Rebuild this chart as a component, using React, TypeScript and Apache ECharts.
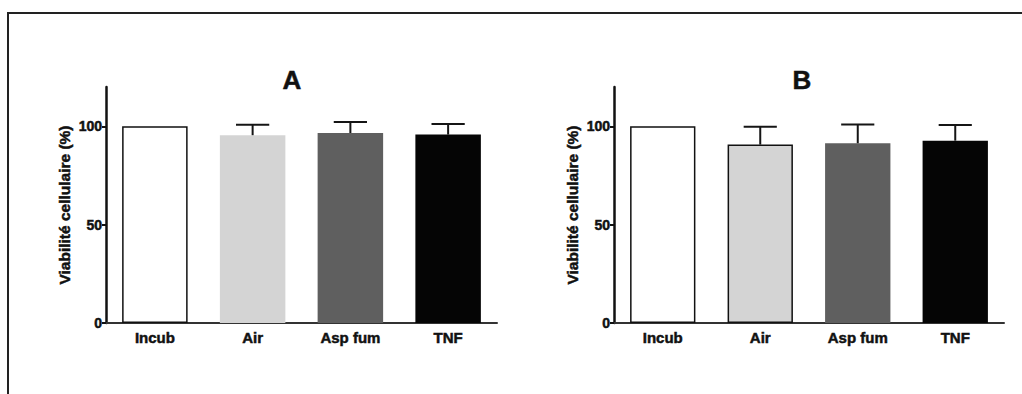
import React, { useEffect, useRef } from "react";
import * as echarts from "echarts";

// Treatment groups and mean cell viability (%) with standard deviation
const categories = ["Incub", "Air", "Asp fum", "TNF"];
const meansA = [100, 95.5, 96.6, 95.8];
const sdA = [0, 5.3, 5.6, 5.4];
const meansB = [100, 90.7, 91.4, 92.7];
const sdB = [0, 9.1, 9.5, 8.0];
const panelTitles = ["A", "B"];
const yAxisName = "Viabilité cellulaire (%)";

const FONT = "'Liberation Sans', Arial, Helvetica, sans-serif";
const INK = "#111";
const barColors = ["#ffffff", "#d4d4d4", "#5f5f5f", "#050505"];

// heavier bold text, as in typical GraphPad-style figures
const heavy = { color: INK, fontFamily: FONT, fontWeight: "bold", textBorderColor: INK, textBorderWidth: 0.5 };

function barData(means: number[], panel: number) {
  return means.map((v, i) => {
    const bordered = i === 0 || (panel === 1 && i === 1);
    return {
      value: v,
      itemStyle: {
        color: barColors[i],
        borderColor: bordered ? INK : barColors[i],
        borderWidth: bordered ? 1.5 : 0,
      },
    };
  });
}

function errorData(means: number[], sds: number[]) {
  return means
    .map((m, i) => [i, m, m + sds[i]])
    .filter((d) => d[2] > d[1]);
}

const renderError = (params: any, api: any) => {
  const i = api.value(0);
  const lo = api.coord([i, api.value(1)]);
  const hi = api.coord([i, api.value(2)]);
  const hw = api.size([1, 0])[0] * 0.17;
  const style = { stroke: "#151515", lineWidth: 2 };
  return {
    type: "group",
    children: [
      { type: "line", shape: { x1: lo[0], y1: lo[1], x2: hi[0], y2: hi[1] }, style },
      { type: "line", shape: { x1: hi[0] - hw, y1: hi[1], x2: hi[0] + hw, y2: hi[1] }, style },
    ],
  };
};

export default function App() {
  const ref = useRef<HTMLDivElement>(null);

  useEffect(() => {
    if (!ref.current) return;
    const chart = echarts.init(ref.current, null, { renderer: "svg" });

    const grids = [
      { left: 106, top: 87, width: 391, bottom: 71 },
      { left: 614, top: 87, width: 390, bottom: 71 },
    ];

    const xAxes = grids.map((_, g) => ({
      type: "category",
      gridIndex: g,
      data: categories,
      axisLine: { lineStyle: { color: "#333", width: 2 } },
      axisTick: { show: false },
      axisLabel: { ...heavy, fontSize: 15, margin: 7 },
    }));

    const yAxes = grids.map((_, g) => ({
      type: "value",
      gridIndex: g,
      min: 0,
      max: 120,
      interval: 50,
      name: yAxisName,
      nameLocation: "middle",
      nameGap: 34,
      nameTextStyle: { ...heavy, fontSize: 15.5 },
      splitLine: { show: false },
      axisLine: { show: true, lineStyle: { color: INK, width: 2.5 } },
      axisTick: { show: true, length: 4, lineStyle: { color: INK, width: 2 } },
      axisLabel: { ...heavy, fontSize: 14, margin: 4, showMaxLabel: false },
    }));

    const series: any[] = [];
    [meansA, meansB].forEach((means, g) => {
      const sds = g === 0 ? sdA : sdB;
      series.push({
        type: "bar",
        xAxisIndex: g,
        yAxisIndex: g,
        barWidth: "67%",
        data: barData(means, g),
      });
      series.push({
        type: "custom",
        xAxisIndex: g,
        yAxisIndex: g,
        renderItem: renderError,
        encode: { x: 0, y: [1, 2] },
        data: errorData(means, sds),
        z: 5,
      });
    });

    chart.setOption({
      animation: false,
      backgroundColor: "#ffffff",
      title: panelTitles.map((t, g) => ({
        text: t,
        left: g === 0 ? 287 : 797,
        top: 62,
        textAlign: "center",
        textStyle: { ...heavy, fontSize: 26 },
      })),
      grid: grids,
      xAxis: xAxes,
      yAxis: yAxes,
      series,
      graphic: [
        {
          type: "polyline",
          shape: { points: [[8, 394], [8, 13], [1022, 13]] },
          style: { stroke: "#222", lineWidth: 2, fill: "none" },
          silent: true,
        },
      ],
    });

    return () => chart.dispose();
  }, []);

  return (
    <div
      ref={ref}
      style={{ position: "absolute", left: 0, top: 0, width: 1022, height: 394 }}
    />
  );
}
